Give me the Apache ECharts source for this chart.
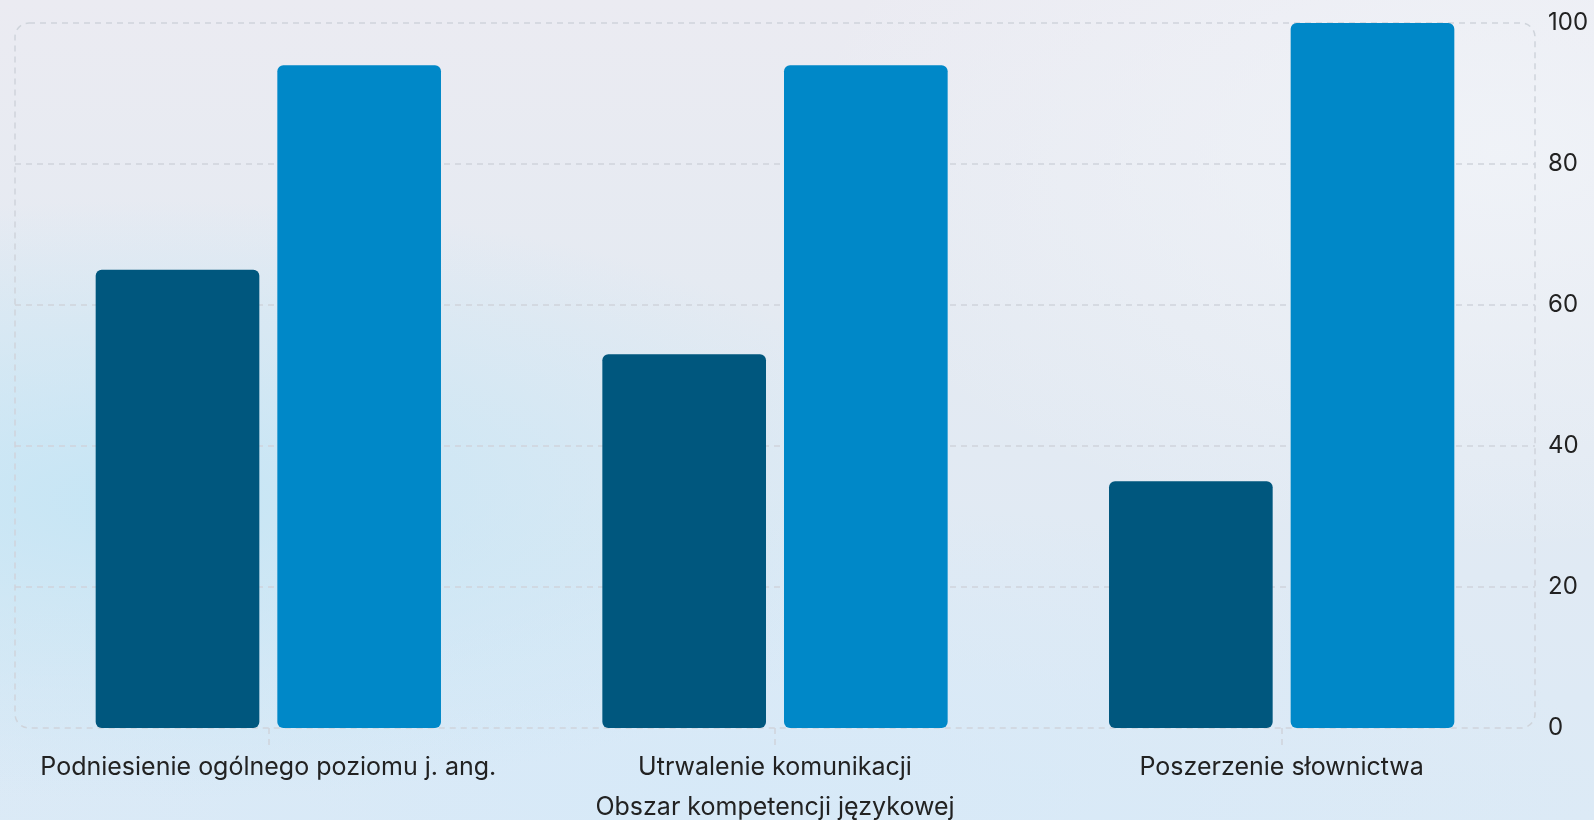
<!DOCTYPE html>
<html>
<head>
<meta charset="utf-8">
<script src="https://cdn.jsdelivr.net/npm/echarts@6/dist/echarts.min.js"></script>
<style>
html,body{margin:0;padding:0;width:1594px;height:820px;overflow:hidden;}
body{
  background:
    radial-gradient(ellipse 800px 300px at 150px 500px, rgba(196,229,245,0.95), rgba(196,229,245,0) 100%),
    radial-gradient(ellipse 900px 300px at 700px 790px, rgba(214,233,248,0.9), rgba(214,233,248,0) 100%),
    radial-gradient(ellipse 700px 400px at 1500px 150px, rgba(240,243,248,0.9), rgba(240,243,248,0) 100%),
    linear-gradient(180deg, #ebebf2 0%, #e4eaf2 40%, #dceaf6 100%);
}
#chart{width:1594px;height:820px;}
</style>
</head>
<body>
<div id="chart"></div>
<script>
const categories = ['Podniesienie ogólnego poziomu j. ang.', 'Utrwalenie komunikacji', 'Poszerzenie słownictwa'];
const seriesA = [65, 53, 35];
const seriesB = [94, 94, 100];
const yTicks = [0, 20, 40, 60, 80, 100];

const gridLeft = 15, gridTop = 23, gridRight = 59, gridBottom = 92;
const W = 1594, H = 820;
const dashColor = '#cfd4db';

const chart = echarts.init(document.getElementById('chart'), null, {renderer: 'canvas'});
chart.setOption({
  backgroundColor: 'transparent',
  animation: false,
  textStyle: {fontFamily: 'Inter'},
  grid: {left: gridLeft, right: gridRight, top: gridTop, bottom: gridBottom, containLabel: false, outerBoundsMode: 'none'},
  graphic: [{
    type: 'rect', silent: true, z: 0,
    shape: {x: gridLeft, y: gridTop, width: W - gridLeft - gridRight, height: H - gridTop - gridBottom, r: 14},
    style: {fill: 'none', stroke: dashColor, lineWidth: 1.5, lineDash: [6, 5]}
  }],
  xAxis: {
    type: 'category',
    data: categories,
    name: 'Obszar kompetencji językowej',
    nameLocation: 'middle',
    nameGap: 67,
    nameTextStyle: {fontSize: 25, color: '#222222', fontFamily: 'Inter'},
    axisLine: {show: false},
    axisTick: {show: true, alignWithLabel: true, length: 17, lineStyle: {color: dashColor, type: [6, 5], width: 1.5}},
    axisLabel: {fontSize: 25, color: '#222222', margin: 27, fontFamily: 'Inter', interval: 0},
    splitLine: {show: false}
  },
  yAxis: {
    type: 'value',
    position: 'right',
    min: 0, max: 100, interval: 20,
    axisLine: {show: false},
    axisTick: {show: false},
    axisLabel: {fontSize: 24, color: '#222222', margin: 13, fontFamily: 'Inter',
      formatter: v => yTicks.indexOf(v) >= 0 ? String(v) : ''},
    splitLine: {show: true, lineStyle: {color: ['transparent', dashColor, dashColor, dashColor, dashColor, 'transparent'], type: [6, 5], width: 1.5}}
  },
  series: [
    {type: 'bar', data: seriesA, barWidth: '32.3%', barGap: '11%',
     itemStyle: {color: '#00577e', borderRadius: 6}},
    {type: 'bar', data: seriesB, barWidth: '32.3%', barGap: '11%',
     itemStyle: {color: '#0088c8', borderRadius: 6}}
  ]
});
</script>
</body>
</html>
